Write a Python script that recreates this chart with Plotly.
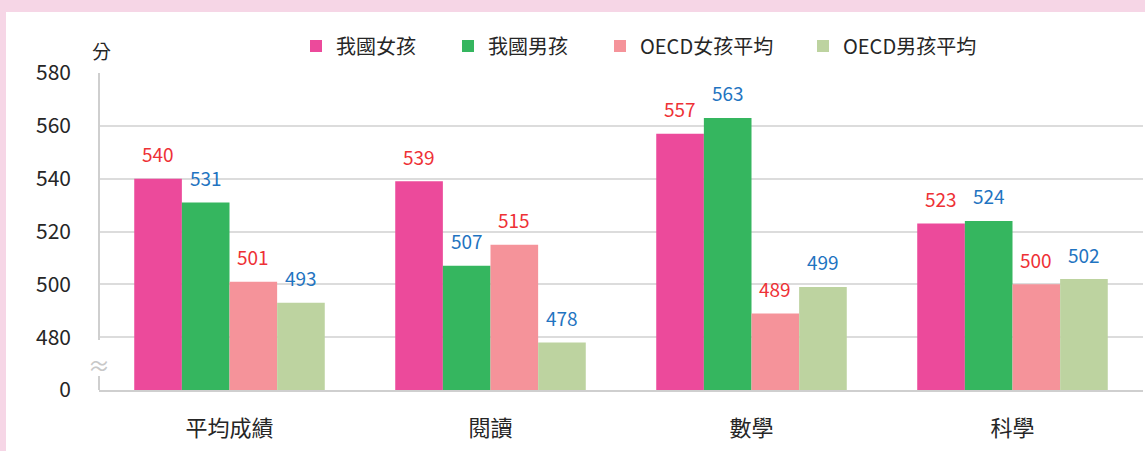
import plotly.graph_objects as go

categories = ["平均成績", "閱讀", "數學", "科學"]
series_names = ["我國女孩", "我國男孩", "OECD女孩平均", "OECD男孩平均"]
tw_girls = [540, 539, 557, 523]
tw_boys = [531, 507, 563, 524]
oecd_girls = [501, 515, 489, 500]
oecd_boys = [493, 478, 499, 502]
series_values = [tw_girls, tw_boys, oecd_girls, oecd_boys]

y_tick_vals = [460, 480, 500, 520, 540, 560, 580]
y_tick_text = ["0", "480", "500", "520", "540", "560", "580"]

colors = ["#EC4A9B", "#35B65F", "#F5939A", "#BDD3A0"]
label_colors = ["#EE3136", "#1F74C1", "#EE3136", "#1F74C1"]

W, H = 1145, 451
ML, MR, MT, MB = 99, 2, 73, 61
PW = W - ML - MR
PH = H - MT - MB
FONT = "Noto Sans CJK TC"
BARGAP = 0.27


def px_x(p):
    return (p - ML) / PW


def px_y(p):
    return (H - MB - p) / PH


fig = go.Figure()
legend_ids = ["legend", "legend2", "legend3", "legend4"]
legend_px = [313, 465, 617, 820]
for i, (name, vals) in enumerate(zip(series_names, series_values)):
    fig.add_trace(go.Bar(
        x=categories, y=vals, name=name,
        marker=dict(color=colors[i], line=dict(width=0)),
        legend=legend_ids[i], showlegend=True,
    ))

# value labels
bar_px = PW / len(categories) * (1 - BARGAP) / len(series_names)
annotations = []
for i, vals in enumerate(series_values):
    for c, v in zip(categories, vals):
        annotations.append(dict(
            x=c, y=v, xref="x", yref="y", text=str(v), showarrow=False,
            xshift=(i - 1.5) * bar_px, yshift=25, yanchor="middle",
            font=dict(family=FONT, size=19, color=label_colors[i]),
        ))
annotations.append(dict(
    x=px_x(101), y=px_y(50), xref="paper", yref="paper",
    text="分", showarrow=False, xanchor="center", yanchor="middle",
    font=dict(family=FONT, size=19, color="#262626"),
))
annotations.append(dict(
    x=px_x(99), y=px_y(364), xref="paper", yref="paper",
    text="≈", showarrow=False, xanchor="center", yanchor="middle",
    font=dict(family=FONT, size=22, color="#C8C8C8"),
))

shapes = [
    # pink frame bands
    dict(type="rect", xref="paper", yref="paper", x0=px_x(0), x1=px_x(W), y0=px_y(0), y1=px_y(12),
         fillcolor="#F6D6E6", line=dict(width=0), layer="below"),
    dict(type="rect", xref="paper", yref="paper", x0=px_x(0), x1=px_x(6), y0=px_y(0), y1=px_y(H),
         fillcolor="#F6D6E6", line=dict(width=0), layer="below"),
    # broken y axis line
    dict(type="line", xref="paper", yref="paper", x0=0, x1=0, y0=px_y(340), y1=1,
         line=dict(color="#CFCFCF", width=2)),
    dict(type="line", xref="paper", yref="paper", x0=0, x1=0, y0=0, y1=px_y(376),
         line=dict(color="#CFCFCF", width=2)),
]

layout_legends = {}
for lid, lp in zip(legend_ids, legend_px):
    layout_legends[lid] = dict(
        x=px_x(lp - 17), xref="paper", xanchor="left",
        y=px_y(46), yref="paper", yanchor="middle",
        orientation="h", bgcolor="rgba(0,0,0,0)", borderwidth=0,
        itemwidth=30, font=dict(family=FONT, size=20, color="#262626"),
    )

fig.update_layout(
    width=W, height=H, autosize=False, showlegend=True,
    margin=dict(l=ML, r=MR, t=MT, b=MB, pad=0),
    paper_bgcolor="white", plot_bgcolor="white",
    barmode="group", bargap=BARGAP, bargroupgap=0,
    font=dict(family=FONT, color="#262626"),
    annotations=annotations, shapes=shapes,
    **layout_legends,
)
fig.update_xaxes(
    showline=True, linecolor="#CFCFCF", linewidth=2, showgrid=False,
    ticks="", ticklabelstandoff=18,
    tickfont=dict(family=FONT, size=22, color="#262626"),
)
fig.update_yaxes(
    range=[460, 580], tickvals=y_tick_vals, ticktext=y_tick_text,
    showgrid=True, gridcolor="#DCDCDC", gridwidth=2, zeroline=False,
    showline=False, ticks="", ticklabelstandoff=27,
    tickfont=dict(family=FONT, size=21, color="#262626"),
)
fig.write_html(
    "out.html",
    config={"displayModeBar": False},
    post_script="document.body.style.margin='0';document.body.style.padding='0';",
)
